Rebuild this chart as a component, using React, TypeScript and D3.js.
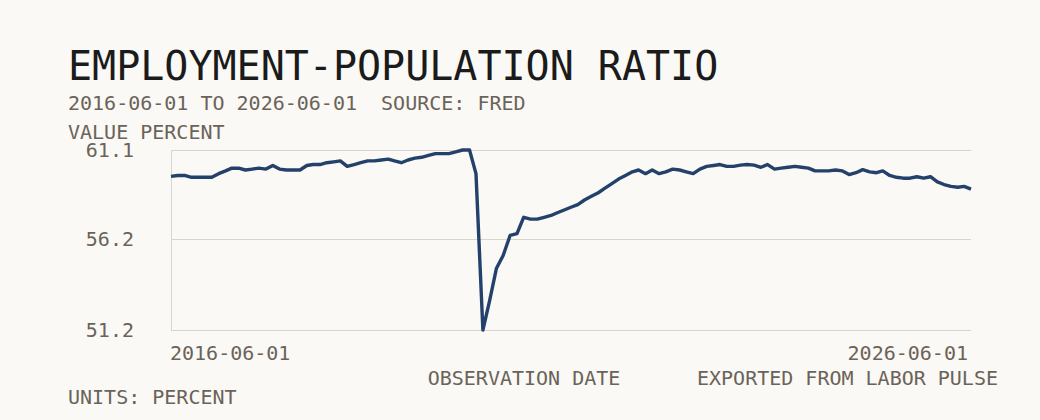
import React, { useEffect, useRef } from 'react';
import * as d3 from 'd3';

// monthly observations, first one is 2016-06
const startMonth = '2016-06-01';
const values = [
  59.65, 59.7, 59.7, 59.6, 59.6, 59.6, 59.6, 59.8, 59.95, 60.1,
  60.1, 60.0, 60.05, 60.1, 60.05, 60.25, 60.05, 60.0, 60.0, 60.0,
  60.25, 60.3, 60.3, 60.4, 60.45, 60.5, 60.2, 60.3, 60.4, 60.5,
  60.5, 60.55, 60.6, 60.5, 60.4, 60.55, 60.65, 60.7, 60.8, 60.9,
  60.9, 60.9, 61.0, 61.1, 61.1, 59.8, 51.2, 52.8, 54.6, 55.3,
  56.4, 56.5, 57.4, 57.3, 57.3, 57.4, 57.5, 57.65, 57.8, 57.95,
  58.1, 58.35, 58.55, 58.75, 59.0, 59.25, 59.5, 59.7, 59.9, 60.0,
  59.8, 60.0, 59.8, 59.9, 60.05, 60.0, 59.9, 59.8, 60.05, 60.2,
  60.25, 60.3, 60.2, 60.2, 60.27, 60.3, 60.27, 60.15, 60.3, 60.05,
  60.1, 60.15, 60.2, 60.15, 60.1, 59.95, 59.95, 59.95, 60.0, 59.95,
  59.75, 59.85, 60.02, 59.9, 59.85, 59.95, 59.7, 59.6, 59.55, 59.55,
  59.63, 59.55, 59.63, 59.35, 59.2, 59.1, 59.05, 59.1, 58.95,
];
const yTicks = [51.2, 56.2, 61.1];
const xTickLabels = ['2016-06-01', '2026-06-01'];

const title = 'EMPLOYMENT-POPULATION RATIO';
const subtitle = '2016-06-01 TO 2026-06-01  SOURCE: FRED';

const App: React.FC = () => {
  const chartRef = useRef<SVGSVGElement | null>(null);

  useEffect(() => {
    if (!chartRef.current) return;
    const W = 1040;
    const H = 420;
    const margin = { top: 150, right: 69, bottom: 90, left: 171 };
    const width = W - margin.left - margin.right;
    const height = H - margin.top - margin.bottom;
    const font = '"DejaVu Sans Mono", "Liberation Mono", monospace';
    const muted = '#6b6359';

    const root = d3.select(chartRef.current);
    root.selectAll('*').remove();
    root.attr('width', W).attr('height', H);

    root.append('rect').attr('width', W).attr('height', H).attr('fill', '#faf9f5');

    const t0 = d3.timeParse('%Y-%m-%d')(startMonth)!;
    const data = values.map((v, i) => ({ date: d3.timeMonth.offset(t0, i), value: v }));

    const x = d3.scaleTime()
      .domain(d3.extent(data, (d) => d.date) as [Date, Date])
      .range([0, width]);
    const y = d3.scaleLinear().domain([yTicks[0], yTicks[yTicks.length - 1]]).range([height, 0]);

    // headings
    root.append('text')
      .attr('x', 68).attr('y', 80)
      .style('font-family', font).style('font-size', '40px')
      .attr('fill', '#1b1b1b')
      .text(title);
    root.append('text')
      .attr('x', 68).attr('y', 110)
      .style('font-family', font).style('font-size', '20px')
      .style('white-space', 'pre')
      .attr('fill', muted)
      .text(subtitle);
    root.append('text')
      .attr('x', 68).attr('y', 139)
      .style('font-family', font).style('font-size', '20px')
      .attr('fill', muted)
      .text('VALUE PERCENT');

    const g = root.append('g').attr('transform', `translate(${margin.left},${margin.top})`);

    // grid
    g.selectAll('.grid')
      .data(yTicks)
      .enter().append('line')
      .attr('class', 'grid')
      .attr('x1', 0).attr('x2', width)
      .attr('y1', (d) => Math.round(y(d)) + 0.5).attr('y2', (d) => Math.round(y(d)) + 0.5)
      .attr('stroke', '#d9d5cd').attr('stroke-width', 1);

    g.append('line')
      .attr('x1', 0.5).attr('x2', 0.5).attr('y1', 0).attr('y2', height)
      .attr('stroke', '#d9d5cd').attr('stroke-width', 1);

    // y labels
    g.selectAll('.ylab')
      .data(yTicks)
      .enter().append('text')
      .attr('class', 'ylab')
      .attr('x', -37)
      .attr('y', (d) => y(d))
      .attr('dy', '0.35em')
      .attr('text-anchor', 'end')
      .style('font-family', font).style('font-size', '20px')
      .attr('fill', muted)
      .text((d) => d3.format('.1f')(d));

    // x labels at the ends of the range
    g.selectAll('.xlab')
      .data(xTickLabels)
      .enter().append('text')
      .attr('class', 'xlab')
      .attr('x', (_d, i) => (i === 0 ? -1 : width - 3))
      .attr('y', height + 30)
      .attr('text-anchor', (_d, i) => (i === 0 ? 'start' : 'end'))
      .style('font-family', font).style('font-size', '20px')
      .attr('fill', muted)
      .text((d) => d);

    const line = d3.line<{ date: Date; value: number }>()
      .x((d) => x(d.date))
      .y((d) => y(d.value));

    g.append('path')
      .datum(data)
      .attr('d', line)
      .attr('fill', 'none')
      .attr('stroke', '#23416b')
      .attr('stroke-width', 3.4)
      .attr('stroke-linejoin', 'round');

    // footer
    root.append('text')
      .attr('x', 524).attr('y', 385)
      .attr('text-anchor', 'middle')
      .style('font-family', font).style('font-size', '20px')
      .attr('fill', muted)
      .text('OBSERVATION DATE');
    root.append('text')
      .attr('x', 998).attr('y', 385)
      .attr('text-anchor', 'end')
      .style('font-family', font).style('font-size', '20px')
      .attr('fill', muted)
      .text('EXPORTED FROM LABOR PULSE');
    root.append('text')
      .attr('x', 68).attr('y', 404)
      .style('font-family', font).style('font-size', '20px')
      .attr('fill', muted)
      .text('UNITS: PERCENT');
  }, []);

  return (
    <div style={{ position: 'fixed', left: 0, top: 0, width: 1040, height: 420, background: '#faf9f5' }}>
      <svg ref={chartRef} style={{ display: 'block' }}></svg>
    </div>
  );
};

export default App;
